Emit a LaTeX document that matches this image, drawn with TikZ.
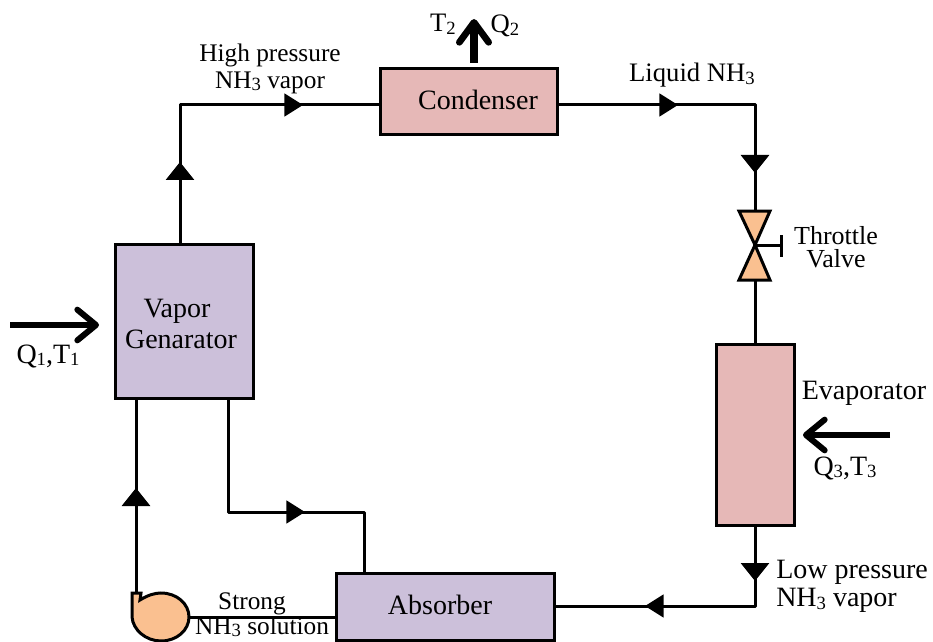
\documentclass[tikz,border=0pt]{standalone}
\usepackage{fontspec}
\setmainfont{Liberation Serif}
\usetikzlibrary{arrows.meta}
\definecolor{pinkbox}{HTML}{E6B8B7}
\definecolor{purplebox}{HTML}{CCC0DA}
\definecolor{orangefill}{HTML}{FAC090}
\newcommand{\sbs}[1]{\raisebox{-0.22ex}{\fontsize{14}{14}\selectfont #1}}
\tikzset{
  x=0.75pt,y=-0.75pt,
  wire/.style={line width=2.25pt,line join=round},
  flow/.style={wire,-{Triangle[length=14pt,width=17pt,sep=0pt]}},
  flowv/.style={wire,-{Triangle[length=13.5pt,width=21pt,sep=0pt]}},
  heat/.style={line width=4pt,-{Straight Barb[length=14pt,width=23pt,line width=4.5pt,round]}},
  heatbig/.style={line width=6pt,-{Straight Barb[length=15pt,width=22pt,line width=5pt,round]}},
  unit/.style={draw=black,line width=2.25pt,inner sep=0pt,outer sep=0pt,anchor=center},
  lab/.style={inner sep=0pt,font=\fontsize{19}{20}\selectfont,align=center},
  biglab/.style={lab,font=\fontsize{21}{21}\selectfont},
  valvepart/.style={draw=black,line width=2.25pt,fill=orangefill,line join=miter}
}
\begin{document}
\begin{tikzpicture}
\useasboundingbox (0,0) rectangle (933,642);
% units
\node[unit,fill=purplebox,minimum width=103.5pt,minimum height=115.5pt] (gen) at (184,321) {};
\node[unit,fill=pinkbox,minimum width=132.75pt,minimum height=49.5pt] (cond) at (468.5,102) {};
\node[unit,fill=pinkbox,minimum width=58.5pt,minimum height=135.75pt] (evap) at (755,434.5) {};
\node[unit,fill=purplebox,minimum width=163.5pt,minimum height=50.25pt] (abs) at (445,606.5) {};
\node[biglab] (tvap) at (177,311) {Vapor};
\node[biglab] (tgen) at (181,339) {Genarator};
\node[biglab] (tcond) at (478,100) {Condenser};
\node[biglab] (tabs) at (440,605) {Absorber};
% coordinates
\coordinate (genup) at (180,244);
\coordinate (c1) at (180,105);
\coordinate (a1) at (180,162);
\coordinate (a2) at (303,105);
\coordinate (condin) at (380,105);
\coordinate (condout) at (557,105);
\coordinate (a3) at (678,105);
\coordinate (c2) at (755,105);
\coordinate (a4) at (755,173);
\coordinate (vtop) at (755,211);
\coordinate (vmid) at (755,245);
\coordinate (vbot) at (755,280);
\coordinate (evin) at (755,344);
\coordinate (evout) at (755,525);
\coordinate (a5) at (755,581);
\coordinate (c3) at (755,606);
\coordinate (a6) at (645,606);
\coordinate (absin) at (554,606);
\coordinate (absup) at (364,573);
\coordinate (c4) at (364,512);
\coordinate (a7) at (305,512);
\coordinate (c5) at (228,512);
\coordinate (genout) at (228,398);
\coordinate (pumpup) at (136,593);
\coordinate (a8) at (136,488);
\coordinate (genin) at (136,398);
\coordinate (pumpout) at (189,617);
\coordinate (absout) at (336,617);
\coordinate (h1) at (781,245);
% connectors
\draw[wire] (genup) -- (c1) -- (condin);
\draw[wire] (condout) -- (c2) -- (vtop);
\draw[wire] (vbot) -- (evin);
\draw[wire] (evout) -- (c3) -- (absin);
\draw[wire] (absup) -- (c4) -- (c5) -- (genout);
\draw[wire] (pumpup) -- (genin);
\draw[wire] (pumpout) -- (absout);
% arrowheads
\draw[flowv] (180,190) -- (a1);
\draw[flow] (270,105) -- (a2);
\draw[flow] (640,105) -- (a3);
\draw[flowv] (755,140) -- (a4);
\draw[flowv] (755,550) -- (a5);
\draw[flow] (690,606) -- (a6);
\draw[flow] (260,512) -- (a7);
\draw[flowv] (136,520) -- (a8);
% valve
\draw[valvepart] (739,211) -- (770,211) -- (vmid) -- cycle;
\draw[valvepart] (739,280) -- (770,280) -- (vmid) -- cycle;
\draw[wire] (vmid) -- (h1);
\draw[wire] (781,235) -- (781,257);
% pump
\draw[valvepart] (132,593) -- (141,593) -- (140,600) .. controls (148,595) and (155,593) .. (161,593)
  .. controls (177,593) and (189,604) .. (189,617) .. controls (189,630) and (177,641) .. (161,641)
  .. controls (146,641) and (133,630) .. (132,617) -- cycle;
% heat arrows
\coordinate (q1s) at (10,325); \coordinate (q1e) at (99,325);
\coordinate (q3s) at (890,435); \coordinate (q3e) at (803,435);
\coordinate (q2s) at (474,63); \coordinate (q2e) at (474,19);
\draw[heat] (q1s) -- (q1e);
\draw[heat] (q3s) -- (q3e);
\draw[heatbig] (q2s) -- (q2e);
% labels
\node[lab] (lhigh) at (270,69) {High pressure\\NH\sbs{3} vapor};
\node[lab,font=\fontsize{20}{20}\selectfont] (lliq) at (692,75) {Liquid NH\sbs{3}};
\node[lab,font=\fontsize{19.5}{17.5}\selectfont] (lthr) at (836,247) {Throttle\\Valve};
\node[biglab,anchor=west,align=left] (llow) at (776,586) {Low pressure\\NH\sbs{3} vapor};
\node[lab] (lstr) at (252,604) {Strong};
\node[lab] (lsol) at (262,627) {NH\sbs{3} solution};
\node[biglab] (levap) at (864,393) {Evaporator};
\node[biglab] (lq1) at (48,356) {Q\sbs{1},T\sbs{1}};
\node[biglab] (lq3) at (845,468) {Q\sbs{3},T\sbs{3}};
\node[lab,font=\fontsize{20}{20}\selectfont] (lt2) at (443,24) {T\sbs{2}};
\node[lab,font=\fontsize{20}{20}\selectfont] (lq2) at (505,26) {Q\sbs{2}};
\end{tikzpicture}
\end{document}
